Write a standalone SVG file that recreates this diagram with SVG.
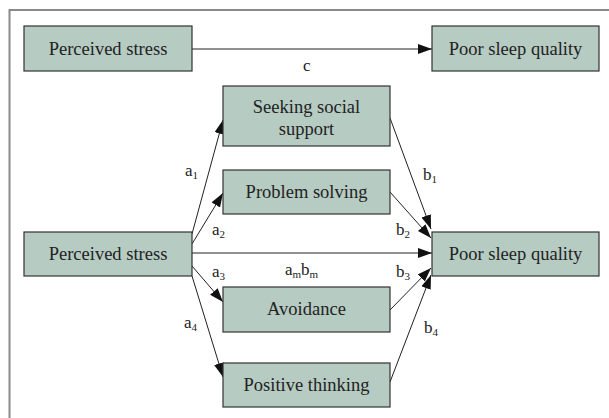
<svg xmlns="http://www.w3.org/2000/svg" width="609" height="418" viewBox="0 0 609 418">
<defs>
<marker id="ah" markerUnits="userSpaceOnUse" markerWidth="15" markerHeight="11" refX="14" refY="5" orient="auto">
<path d="M0,0 L14,5 L0,10 z" fill="#111"/>
</marker>
<style>
.box{fill:#b6cbc2;stroke:#333;stroke-width:1.2}
.lbl{font-family:"Liberation Serif",serif;font-size:18.5px;fill:#222;text-anchor:middle}
.sm{font-family:"Liberation Serif",serif;font-size:17px;fill:#222}
.sub{font-size:11px}
.ln{stroke:#222;stroke-width:1;fill:none;marker-end:url(#ah)}
</style>
</defs>
<rect width="609" height="418" fill="#fff"/>
<rect x="9.5" y="10" width="620" height="430" fill="none" stroke="#8a8a8a" stroke-width="2"/>
<g id="connectors">
<line class="ln" x1="192" y1="49" x2="432" y2="49"/>
<line class="ln" x1="192" y1="253" x2="432" y2="253"/>
<line class="ln" x1="192" y1="234" x2="223" y2="120"/>
<line class="ln" x1="192" y1="244" x2="223" y2="193"/>
<line class="ln" x1="192" y1="266" x2="223" y2="302"/>
<line class="ln" x1="192" y1="276" x2="223" y2="377"/>
<line class="ln" x1="390" y1="118" x2="431" y2="229"/>
<line class="ln" x1="390" y1="192" x2="431" y2="238"/>
<line class="ln" x1="390" y1="310" x2="431" y2="268"/>
<line class="ln" x1="390" y1="382" x2="431" y2="275"/>
</g>
<g id="labels">
<text class="sm" x="303" y="71">c</text>
<text class="sm" x="185" y="176">a<tspan class="sub" dy="3">1</tspan></text>
<text class="sm" x="212" y="235">a<tspan class="sub" dy="3">2</tspan></text>
<text class="sm" x="212" y="277">a<tspan class="sub" dy="3">3</tspan></text>
<text class="sm" x="184" y="328">a<tspan class="sub" dy="3">4</tspan></text>
<text class="sm" x="423" y="180">b<tspan class="sub" dy="3">1</tspan></text>
<text class="sm" x="396" y="235">b<tspan class="sub" dy="3">2</tspan></text>
<text class="sm" x="396" y="277">b<tspan class="sub" dy="3">3</tspan></text>
<text class="sm" x="424" y="333">b<tspan class="sub" dy="3">4</tspan></text>
<text class="sm" x="285" y="275">a<tspan class="sub" dy="3">m</tspan><tspan dy="-3">b</tspan><tspan class="sub" dy="3">m</tspan></text>
</g>
<g id="ps_top"><rect class="box" x="24" y="26" width="168" height="45"/><text class="lbl" x="108" y="55">Perceived stress</text></g>
<g id="psq_top"><rect class="box" x="432" y="26" width="167" height="45"/><text class="lbl" x="515.5" y="55">Poor sleep quality</text></g>
<g id="seek"><rect class="box" x="223" y="86" width="167" height="60"/><text class="lbl" x="306.5" y="113">Seeking social</text><text class="lbl" x="306.5" y="135">support</text></g>
<g id="prob"><rect class="box" x="223" y="170" width="167" height="44"/><text class="lbl" x="306.5" y="198">Problem solving</text></g>
<g id="ps_mid"><rect class="box" x="24" y="232" width="168" height="44"/><text class="lbl" x="108" y="260">Perceived stress</text></g>
<g id="psq_mid"><rect class="box" x="432" y="232" width="167" height="44"/><text class="lbl" x="515.5" y="260">Poor sleep quality</text></g>
<g id="avoid"><rect class="box" x="223" y="287" width="167" height="45"/><text class="lbl" x="306.5" y="315">Avoidance</text></g>
<g id="pos"><rect class="box" x="223" y="363" width="167" height="44"/><text class="lbl" x="306.5" y="391">Positive thinking</text></g>
</svg>
